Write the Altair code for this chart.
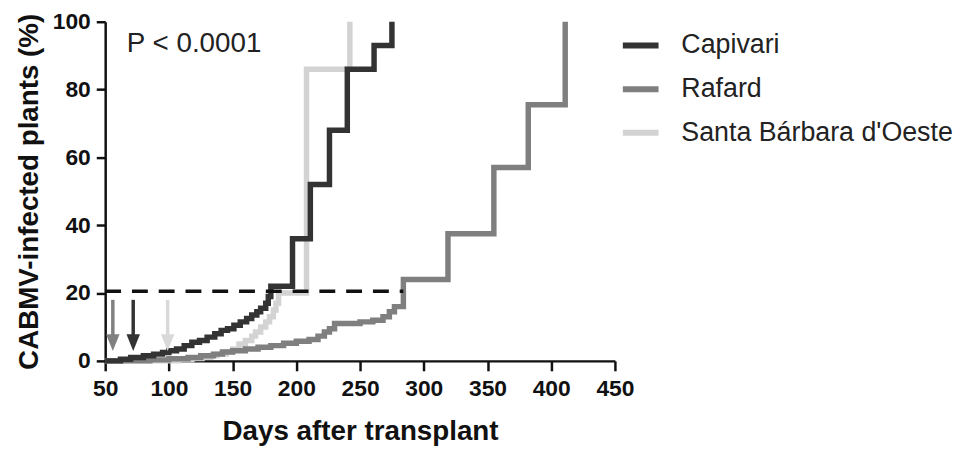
import altair as alt
import pandas as pd

series_names = ["Capivari", "Rafard", "Santa Bárbara d'Oeste"]
series_colors = ["#333333", "#7f7f7f", "#d3d3d3"]

cap_days = [50, 62, 70, 80, 88, 95, 100, 106, 112, 118, 124, 130, 136, 141, 146, 151, 156, 161, 165, 169,
            172, 176, 178, 180, 197, 211, 226, 240, 261, 275]
cap_pct = [0, 0.5, 1, 1.5, 2, 2.5, 3, 3.5, 4.5, 5.5, 6, 7, 8, 9, 9.5, 10.5, 11.5, 12.5, 13.5, 14.5,
           15.5, 17, 19, 22, 36, 52, 68, 86, 93, 100]

raf_days = [50, 85, 100, 115, 125, 135, 142, 150, 160, 170, 180, 190, 200, 210, 217, 222, 226, 230, 250, 260,
            268, 273, 277, 284, 319, 355, 382, 411]
raf_pct = [0, 0.3, 0.6, 1, 1.5, 2, 2.6, 3, 3.5, 4, 4.5, 5.2, 5.8, 6.3, 7.3, 8.5, 9.5, 11, 11.5, 12,
           13, 14.5, 16, 24, 37.5, 57, 75.5, 100]

sb_days = [50, 108, 118, 126, 133, 138, 145, 150, 155, 160, 165, 168, 172, 176, 179, 182, 184, 186, 208, 242]
sb_pct = [0, 0.3, 0.7, 1.1, 1.6, 2, 2.6, 3.5, 5, 6, 7.3, 8.5, 10, 11.5, 13, 15, 17, 20, 86, 100]

threshold_days = [50, 284]
threshold_pct = [20.5, 20.5]

arrow_series = ["Rafard", "Capivari", "Santa Bárbara d'Oeste"]
arrow_colors = ["#808080", "#333333", "#d9d9d9"]
arrow_days = [56, 72, 99]
arrow_top = [18, 18, 18]
arrow_bottom = [7, 7, 7]
arrow_head = [5.4, 5.4, 5.4]

p_text = "P < 0.0001"
p_day = 67
p_pct = 93.3

FONT = "Liberation Sans"

df = pd.concat([
    pd.DataFrame({"day": cap_days, "pct": cap_pct, "series": "Capivari"}),
    pd.DataFrame({"day": raf_days, "pct": raf_pct, "series": "Rafard"}),
    pd.DataFrame({"day": sb_days, "pct": sb_pct, "series": "Santa Bárbara d'Oeste"}),
], ignore_index=True)

df_thr = pd.DataFrame({"day": threshold_days, "pct": threshold_pct})
df_arr = pd.DataFrame({"day": arrow_days, "series": arrow_series, "acolor": arrow_colors,
                       "top": arrow_top, "bottom": arrow_bottom, "head": arrow_head})
df_txt = pd.DataFrame({"day": [p_day], "pct": [p_pct], "label": [p_text]})

color_scale = alt.Scale(domain=series_names, range=series_colors)

x_enc = alt.X("day:Q", scale=alt.Scale(domain=[50, 450], nice=False, zero=False),
              axis=alt.Axis(values=[50, 100, 150, 200, 250, 300, 350, 400, 450],
                            title="Days after transplant", grid=False,
                            domainColor="#111", domainWidth=2.5, tickColor="#111", tickWidth=2.5,
                            tickSize=10, labelFont=FONT, labelFontSize=23, labelFontWeight="bold",
                            labelColor="#111", labelPadding=7, titleFont=FONT, titleFontSize=28,
                            titleFontWeight="bold", titleColor="#111", titleBaseline="alphabetic",
                            titleY=79, labelFlush=False))
y_enc = alt.Y("pct:Q", scale=alt.Scale(domain=[0, 100], nice=False),
              axis=alt.Axis(values=[0, 20, 40, 60, 80, 100], title="CABMV-infected plants (%)",
                            grid=False, domainColor="#111", domainWidth=2.5, tickColor="#111",
                            tickWidth=2.5, tickSize=9, labelFont=FONT, labelFontSize=23,
                            labelFontWeight="bold", labelColor="#111", labelPadding=6,
                            titleFont=FONT, titleFontSize=28, titleFontWeight="bold",
                            titleColor="#111", titleAngle=270, titleAlign="center",
                            titleBaseline="middle", titleX=-76, titleY=171, labelFlush=False))

legend = alt.Legend(orient="none", legendX=519, legendY=3, title=None, symbolType="stroke",
                    symbolStrokeWidth=6, symbolSize=1296, labelFont=FONT, labelFontSize=27,
                    labelColor="#222", labelLimit=400, labelOffset=20, rowPadding=10,
                    padding=0)

base = alt.Chart(df)


def series_layer(name):
    return base.transform_filter(alt.datum.series == name).mark_line(
        interpolate="step-after", strokeWidth=5.5, clip=False
    ).encode(x=x_enc, y=y_enc, color=alt.Color("series:N", scale=color_scale, legend=legend))


light = series_layer("Santa Bárbara d'Oeste")
medium = series_layer("Rafard")
dark = series_layer("Capivari")

thr = alt.Chart(df_thr).mark_line(color="#111", strokeWidth=3.5, strokeDash=[16, 11]).encode(
    x="day:Q", y="pct:Q")

shafts = alt.Chart(df_arr).mark_rule(strokeWidth=3.5).encode(
    x="day:Q", y="top:Q", y2="bottom:Q",
    stroke=alt.Stroke("acolor:N", scale=None))
heads = alt.Chart(df_arr).mark_point(shape="M-0.8,-1L0.8,-1L0,1Z", filled=True, size=289,
                                     opacity=1, strokeWidth=0).encode(
    x="day:Q", y="head:Q",
    fill=alt.Fill("acolor:N", scale=None))

ptxt = alt.Chart(df_txt).mark_text(align="left", baseline="middle", font=FONT, fontSize=28,
                                   color="#222").encode(x="day:Q", y="pct:Q", text="label:N")

chart = alt.layer(light, medium, dark, thr, shafts, heads, ptxt).properties(
    width=514, height=342,
    autosize=alt.AutoSizeParams(type="none"),
    padding={"left": 98, "top": 12, "right": 350, "bottom": 86},
).configure_view(stroke=None)

chart.save("out.html", embed_options={"renderer": "svg", "actions": False})
